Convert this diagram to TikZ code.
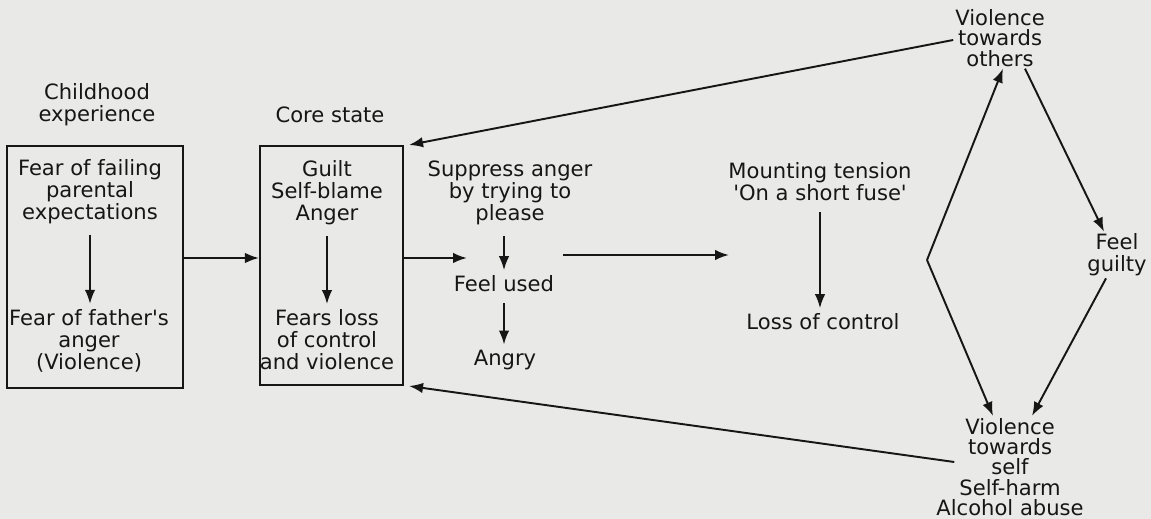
\documentclass[tikz,border=0pt]{standalone}
\usepackage{fontspec}
\setmainfont{DejaVu Sans}
\usepackage{xcolor}
\definecolor{bgPaper}{HTML}{E9E9E7}
\definecolor{inkDark}{HTML}{161616}
\usetikzlibrary{arrows.meta, positioning}

\begin{document}
\begin{tikzpicture}[x=0.02cm, y=-0.02cm,
    lbl/.style={text=inkDark, align=center, inner sep=1pt,
                font=\fontsize{12}{12.6}\selectfont},
    tightLbl/.style={lbl, font=\fontsize{12}{11.6}\selectfont},
    stateBox/.style={draw=inkDark, line width=1.2pt, inner sep=0pt},
    flow/.style={draw=inkDark, line width=1.1pt,
                 -{Latex[length=2.8mm, width=2.1mm]}},
    down/.style={flow, shorten <=5pt, shorten >=2pt}]
  \fill[bgPaper] (0,0) rectangle (1151,519);
  \useasboundingbox (0,0) rectangle (1151,519);

  % childhood column
  \node[lbl] (childLbl) at (97,105) {Childhood\\experience};
  \node[stateBox, minimum width=3.52cm, minimum height=4.84cm] (box1) at (95,267) {};
  \node[lbl] (fail) at (90,192) {Fear of failing\\parental\\expectations};
  \node[lbl] (father) at (89,341) {Fear of father\textquotesingle s\\anger\\(Violence)};

  % core state column
  \node[lbl] (coreLbl) at (330,115) {Core state};
  \node[stateBox, minimum width=2.86cm, minimum height=4.78cm] (box2) at (331.5,265.5) {};
  \node[lbl] (guilt) at (327,193) {Guilt\\Self-blame\\Anger};
  \node[lbl] (fears) at (327,340) {Fears loss\\of control\\and violence};

  % coping
  \node[lbl] (supp) at (510,193) {Suppress anger\\by trying to\\please};
  \node[lbl] (used) at (504,284) {Feel used};
  \node[lbl] (angry) at (505,360) {Angry};

  \node[lbl] (mount) at (820,182) {Mounting tension\\\textquotesingle On a short fuse\textquotesingle};
  \node[lbl] (loss) at (823,322) {Loss of control};

  % cycle
  \node[tightLbl] (others) at (1000,38) {Violence\\towards\\others};
  \node[lbl] (guilty) at (1117,255) {Feel\\guilty};
  \node[tightLbl] (self) at (1010,467) {Violence\\towards\\self\\Self-harm\\Alcohol abuse};

  \coordinate (intoSupp) at (467,258);
  \coordinate (outUsed) at (563,255);
  \coordinate (intoMount) at (729,255);
  \coordinate (split) at (927,260);

  \draw[down] (fail.south) -- (fail.south |- father.north);
  \draw[down] (guilt.south) -- (guilt.south |- fears.north);
  \draw[down] (supp.south -| used.north) -- (used.north);
  \draw[down] (used.south) -- (used.south |- angry.north);
  \draw[down] (mount.south) -- (mount.south |- loss.north);

  \draw[flow] (box1.east |- intoSupp) -- (box2.west |- intoSupp);
  \draw[flow] (box2.east |- intoSupp) -- (intoSupp);
  \draw[flow] (outUsed) -- (intoMount);

  \draw[flow] ([yshift=-0.04cm]others.west) -- ([xshift=0.1cm]box2.north east);
  \draw[flow] ([xshift=0.4cm, yshift=0.1cm]self.west) -- ([xshift=0.1cm]box2.south east);
  \draw[flow] (split) -- ([xshift=0.06cm]others.south);
  \draw[flow] (split) -- ([xshift=-0.34cm]self.north);
  \draw[flow] ([xshift=0.5cm]others.south) -- ([xshift=-0.26cm]guilty.north);
  \draw[flow] ([xshift=-0.22cm]guilty.south) -- ([xshift=0.44cm]self.north);
\end{tikzpicture}
\end{document}
